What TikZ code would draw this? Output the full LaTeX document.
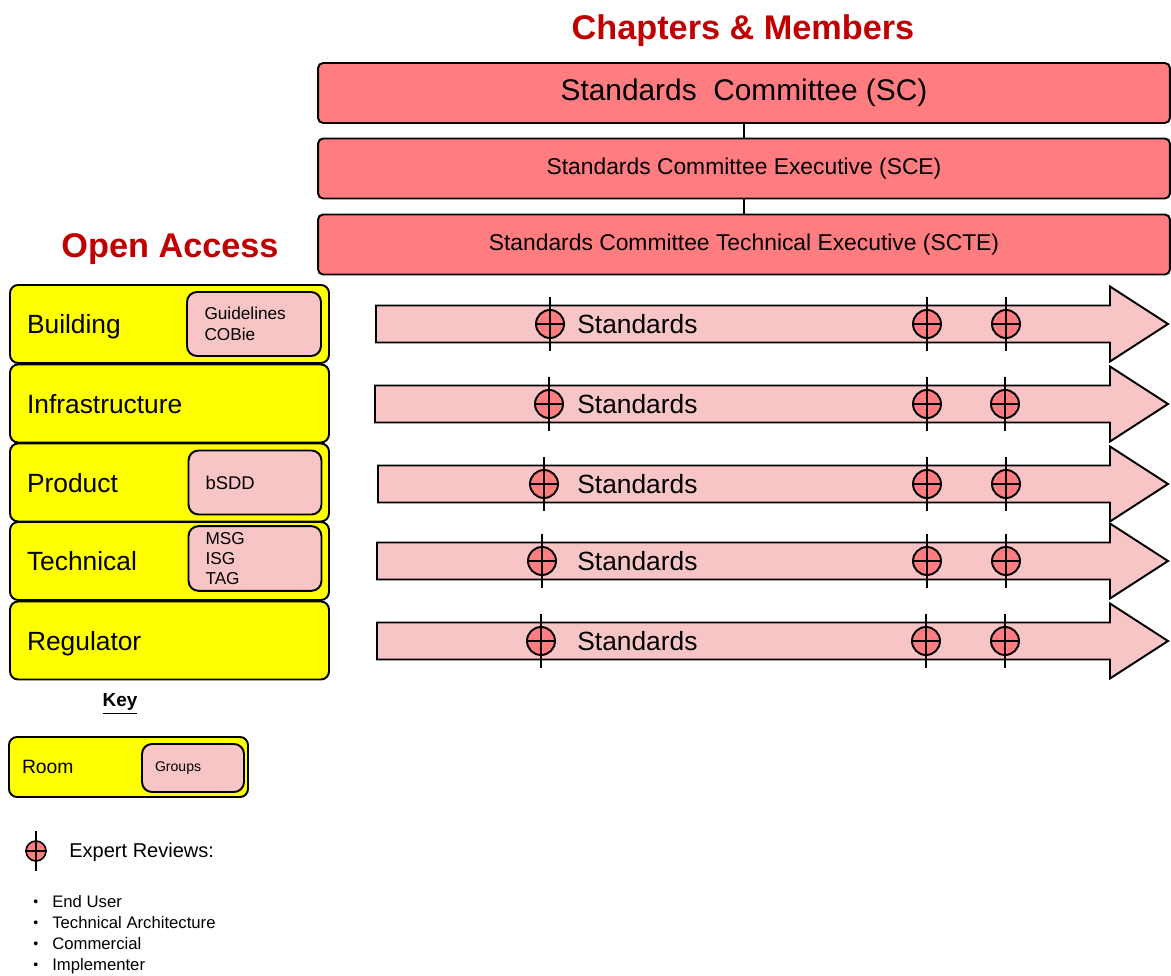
\documentclass[tikz,border=0pt]{standalone}
\usepackage{fontspec}
\setmainfont{Liberation Sans}
\usetikzlibrary{positioning}

\definecolor{scred}{HTML}{FF7C80}
\definecolor{grouppink}{HTML}{F7C5C5}
\definecolor{roomyellow}{HTML}{FFFF00}
\definecolor{titlered}{HTML}{C00000}

\newcommand*{\arrowend}{1110}
\newcommand*{\arrowtip}{1168}
\newcommand*{\bodyhalf}{18.5}
\newcommand*{\headhalf}{37.5}
\newcommand*{\smallbullet}{\raisebox{0.9pt}{\fontsize{8}{8}\selectfont\textbullet}\hspace{8pt}}

\begin{document}
\begin{tikzpicture}
[
	x=0.02cm, y=-0.02cm,
	heading/.style={text=titlered,text depth=0pt,font=\fontsize{19.5}{23}\selectfont\bfseries},
	scbox/.style={draw,line width=1.1pt,fill=scred,rounded corners=0.1cm,minimum width=17.04cm,minimum height=1.2cm,inner sep=0pt},
	roombox/.style={draw,line width=1.1pt,fill=roomyellow,rounded corners=0.16cm,minimum width=6.38cm,minimum height=1.56cm,text width=5.7cm,text depth=0pt,inner xsep=0.34cm,align=left,font=\fontsize{15}{18}\selectfont},
	groupbox/.style={draw,line width=1.1pt,fill=grouppink,rounded corners=0.2cm,minimum height=1.28cm,text width=1.98cm,inner xsep=0.34cm,align=left,font=\fontsize{9.8}{11.6}\selectfont},
	stdarrow/.style={draw,line width=1.1pt,fill=grouppink},
	review/.style={circle,draw,line width=1.1pt,fill=scred,inner sep=0pt,minimum size=0.56cm},
	keyreview/.style={circle,draw,line width=0.9pt,fill=scred,inner sep=0pt,minimum size=0.4cm}
]

	\useasboundingbox (0,0) rectangle (1171,976);

	% headings
	\node[heading] (chapters) at (743,27) {Chapters \& Members};
	\node[heading] (openaccess) at (170,246) {Open Access};

	% committees
	\node[scbox,font=\fontsize{17}{20}\selectfont] (sc) at (744,93) {Standards\ \ Committee (SC)};
	\node[scbox,font=\fontsize{13}{16}\selectfont] (sce) at (744,168.5) {Standards Committee Executive (SCE)};
	\node[scbox,font=\fontsize{13}{16}\selectfont] (scte) at (744,244.5) {Standards Committee Technical Executive (SCTE)};
	\draw[line width=1.1pt] (sc) -- (sce);
	\draw[line width=1.1pt] (sce) -- (scte);

	% rooms
	\foreach \room/\y in {Building/324,Infrastructure/403.5,Product/482.5,Technical/561,Regulator/640.5} {
		\node[roombox] (\room) at (169.5,\y) {\room};
	}

	% groups
	\node[groupbox,minimum width=2.68cm] (guidelines) at (254,324) {Guidelines\\COBie};
	\node[groupbox,minimum width=2.64cm,font=\fontsize{10.5}{12}\selectfont] (bsdd) at (255,482.5) {bSDD};
	\node[groupbox,minimum width=2.64cm] (msg) at (255,558.5) {MSG\\ISG\\TAG};

	% standards arrows with expert reviews
	\foreach \i/\y/\xs/\ra/\rb/\rc in {1/324/376/550/927/1006,2/404/375/549/927/1005,3/484/378/544/927/1006,4/561/377/542/927/1006,5/641/377/541/926/1005} {
		\draw[stdarrow] (\xs,\y-\bodyhalf) -- (\arrowend,\y-\bodyhalf) -- (\arrowend,\y-\headhalf)
			-- (\arrowtip,\y) -- (\arrowend,\y+\headhalf) -- (\arrowend,\y+\bodyhalf) -- (\xs,\y+\bodyhalf) -- cycle;
		\node[right,inner xsep=0pt,font=\fontsize{15}{18}\selectfont] (std-\i) at (577,\y) {Standards};
		\foreach \r [count=\j] in {\ra,\rb,\rc} {
			\node[review] (rev-\i-\j) at (\r,\y) {};
			\draw[line width=0.9pt] ([yshift=0.55cm]rev-\i-\j.center) -- ([yshift=-0.55cm]rev-\i-\j.center);
			\draw[line width=1.1pt] (rev-\i-\j.west) -- (rev-\i-\j.east);
		}
	}

	% key
	\node[font=\fontsize{10.8}{13}\selectfont\bfseries] (key) at (120,704) {\underline{Key}};
	\node[draw,line width=1.1pt,fill=roomyellow,rounded corners=0.16cm,minimum width=4.78cm,minimum height=1.2cm,
		text width=4.26cm,inner xsep=0.26cm,align=left,font=\fontsize{11}{13}\selectfont] (keyroom) at (128.5,767) {Room};
	\node[draw,line width=1.1pt,fill=grouppink,rounded corners=0.2cm,minimum width=2.04cm,minimum height=0.96cm,
		text width=1.52cm,inner xsep=0.26cm,align=left,font=\fontsize{8}{10}\selectfont] (keygroups) at (193,768) {Groups};

	\node[keyreview] (keyrev) at (36,851) {};
	\draw[line width=0.8pt] ([yshift=0.4cm]keyrev.center) -- ([yshift=-0.4cm]keyrev.center);
	\draw[line width=0.9pt] (keyrev.west) -- (keyrev.east);
	\node[right,inner xsep=0pt,font=\fontsize{11.4}{14}\selectfont] (expert) at (69,852) {Expert Reviews:};
	\node[right,inner xsep=0pt,align=left,font=\fontsize{9.5}{12}\selectfont] (reviewers) at (33,935)
		{\smallbullet End User\\\smallbullet Technical Architecture\\\smallbullet Commercial\\\smallbullet Implementer};

\end{tikzpicture}
\end{document}
